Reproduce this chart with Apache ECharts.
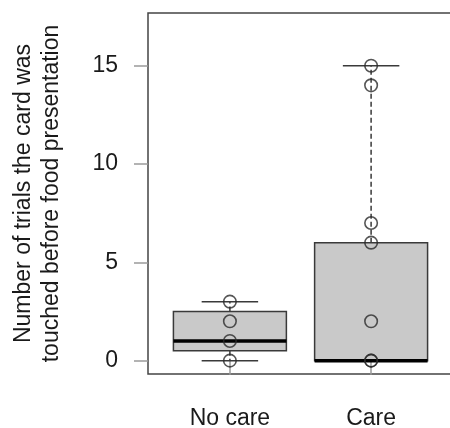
<!DOCTYPE html>
<html>
<head>
    <meta charset="utf-8">
    <script type="text/javascript" src="https://cdn.jsdelivr.net/npm/echarts@6/dist/echarts.min.js"></script>
    <style>
        html, body { margin: 0; padding: 0; background: #fff; }
    </style>
</head>
<body>
<div id="main" style="width:450px;height:428px"></div>
<script type="text/javascript">
    // groups and tick labels
    var categories = ['No care', 'Care'];
    var yTicks = [0, 5, 10, 15];
    // five-number summaries: [lower whisker, Q1, median, Q3, upper whisker]
    var noCareBox = [0, 0.5, 1, 2.5, 3];
    var careBox = [0, 0, 0, 6, 15];
    // raw observations drawn as open circles
    var noCarePoints = [0, 1, 2, 3];
    var carePoints = [0, 0, 2, 6, 7, 14, 15];

    var boxes = [noCareBox, careBox];
    var boxData = [];
    for (var i = 0; i < boxes.length; i++) {
        boxData.push([i + 1].concat(boxes[i]));
    }
    var pointData = [];
    for (var i = 0; i < noCarePoints.length; i++) pointData.push([1, noCarePoints[i]]);
    for (var i = 0; i < carePoints.length; i++) pointData.push([2, carePoints[i]]);

    var lineCol = '#3a3a3a';

    function renderBox(params, api) {
        var x = api.value(0);
        var lo = api.value(1), q1 = api.value(2), med = api.value(3), q3 = api.value(4), hi = api.value(5);
        var pL = api.coord([x - 0.4, q3]);
        var pR = api.coord([x + 0.4, q1]);
        var cL = api.coord([x - 0.2, 0])[0];
        var cR = api.coord([x + 0.2, 0])[0];
        var cx = api.coord([x, 0])[0];
        var yLo = api.coord([x, lo])[1], yQ1 = pR[1], yQ3 = pL[1], yHi = api.coord([x, hi])[1];
        var yMed = api.coord([x, med])[1];
        var dash = {stroke: lineCol, lineWidth: 1.5, lineDash: [5, 3]};
        var solid = {stroke: lineCol, lineWidth: 1.5};
        var kids = [];
        if (hi > q3) {
            kids.push({type: 'line', shape: {x1: cx, y1: yQ3, x2: cx, y2: yHi}, style: dash});
            kids.push({type: 'line', shape: {x1: cL, y1: yHi, x2: cR, y2: yHi}, style: solid});
        }
        if (lo < q1) {
            kids.push({type: 'line', shape: {x1: cx, y1: yQ1, x2: cx, y2: yLo}, style: dash});
            kids.push({type: 'line', shape: {x1: cL, y1: yLo, x2: cR, y2: yLo}, style: solid});
        }
        kids.push({
            type: 'rect',
            shape: {x: pL[0], y: yQ3, width: pR[0] - pL[0], height: yQ1 - yQ3},
            style: {fill: '#c9c9c9', stroke: lineCol, lineWidth: 1.5}
        });
        kids.push({type: 'line', shape: {x1: pL[0], y1: yMed, x2: pR[0], y2: yMed}, style: {stroke: '#000', lineWidth: 3.5}});
        return {type: 'group', children: kids};
    }

    var myChart = echarts.init(document.getElementById('main'));
    var option = {
        animation: false,
        textStyle: {fontFamily: 'Liberation Sans, Arial, sans-serif'},
        grid: {
            left: 148, right: -3, top: 13, bottom: 54,
            show: true, borderColor: '#444', borderWidth: 1.5,
            outerBoundsMode: 'none'
        },
        xAxis: {
            type: 'value', min: 0.42, max: 2.58,
            axisLine: {show: false},
            splitLine: {show: false},
            axisTick: {customValues: [1, 2], length: 14, lineStyle: {color: '#9a9a9a', width: 1.5}},
            axisLabel: {
                customValues: [1, 2], margin: 33, fontSize: 23, color: '#1a1a1a',
                formatter: function (v) { return categories[Math.round(v) - 1]; }
            }
        },
        yAxis: {
            type: 'value', min: -0.68, max: 17.68,
            name: 'Number of trials the card was\ntouched before food presentation',
            nameLocation: 'middle', nameGap: 82, nameRotate: 90,
            nameTextStyle: {fontSize: 23, lineHeight: 28, color: '#1a1a1a'},
            axisLine: {show: false},
            splitLine: {show: false},
            axisTick: {customValues: yTicks, length: 14, lineStyle: {color: '#9a9a9a', width: 1.5}},
            axisLabel: {customValues: yTicks, margin: 30, fontSize: 23, color: '#1a1a1a'}
        },
        series: [{
            type: 'custom',
            renderItem: renderBox,
            data: boxData,
            encode: {x: 0, y: [1, 2, 3, 4, 5]},
            z: 2
        }, {
            type: 'scatter',
            data: pointData,
            symbol: 'circle',
            symbolSize: 12.5,
            itemStyle: {color: 'rgba(0,0,0,0)', borderColor: '#2a2a2a', borderWidth: 1.6},
            z: 3
        }]
    };
    myChart.setOption(option);
</script>
</body>
</html>
